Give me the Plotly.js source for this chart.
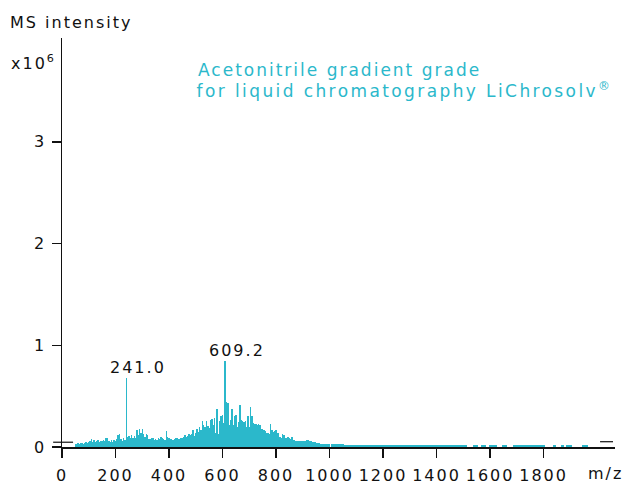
<!DOCTYPE html>
<html>
<head>
<meta charset="utf-8">
<script src="https://cdn.plot.ly/plotly-3.0.1.min.js"></script>
<style>
  html, body { margin: 0; padding: 0; background: #fff; }
  #chart { width: 625px; height: 484px; }
  #chart text { letter-spacing: 2px; }
  #chart g.annotation[data-index="6"] text { letter-spacing: 2.4px; }
</style>
</head>
<body>
<div id="chart"></div>
<script>
// m/z positions of the dense part of the spectrum
const mzMain = [
  50,55,60,65,70,75,80,85,90,95,
  100,105,110,115,120,125,130,135,140,145,
  150,155,160,165,170,175,180,185,190,195,
  200,205,210,215,220,225,230,235,241,245,
  250,255,260,265,270,275,280,285,290,295,
  300,305,310,315,320,325,330,335,340,345,
  350,355,360,365,370,375,380,385,390,395,
  400,405,410,415,420,425,430,435,440,445,
  450,455,460,465,470,475,480,485,490,495,
  500,505,510,515,520,525,530,535,540,545,
  550,555,560,565,570,575,580,585,590,595,
  600,605,609.2,615,620,625,630,635,640,645,
  650,655,660,665,670,675,680,685,690,695,
  700,705,710,715,720,725,730,735,740,745,
  750,755,760,765,770,775,780,785,790,795,
  800,805,810,815,820,825,830,835,840,845,
  850,855,860,865,870,875,880,885,890,895,
  900,905,910,915,920,925,930,935,940,945,
  950,955,960,965,970,975,980,985,990,995,
  1000
];
// MS intensity (x10^6)
const intensityMain = [
  0.025,0.03,0.035,0.03,0.04,0.035,0.03,0.04,0.045,0.04,
  0.045,0.055,0.075,0.05,0.065,0.045,0.055,0.065,0.045,0.06,
  0.055,0.07,0.06,0.085,0.09,0.055,0.05,0.065,0.045,0.07,
  0.06,0.075,0.115,0.125,0.075,0.055,0.085,0.065,0.68,0.095,
  0.11,0.085,0.12,0.09,0.11,0.085,0.17,0.12,0.18,0.14,
  0.18,0.13,0.10,0.13,0.12,0.08,0.075,0.085,0.09,0.065,
  0.075,0.07,0.09,0.08,0.095,0.085,0.075,0.065,0.16,0.10,
  0.085,0.075,0.08,0.07,0.08,0.09,0.085,0.075,0.075,0.09,
  0.085,0.10,0.12,0.10,0.11,0.13,0.12,0.13,0.17,0.11,
  0.14,0.18,0.15,0.20,0.17,0.26,0.22,0.20,0.26,0.21,
  0.19,0.27,0.28,0.22,0.29,0.14,0.37,0.13,0.26,0.30,
  0.31,0.24,0.85,0.44,0.43,0.22,0.27,0.37,0.22,0.30,
  0.31,0.20,0.25,0.41,0.27,0.26,0.25,0.26,0.20,0.30,
  0.20,0.39,0.30,0.24,0.23,0.23,0.22,0.23,0.22,0.18,
  0.18,0.17,0.16,0.14,0.14,0.13,0.23,0.17,0.15,0.16,
  0.17,0.14,0.14,0.10,0.085,0.13,0.12,0.085,0.09,0.10,
  0.085,0.08,0.095,0.07,0.065,0.06,0.055,0.057,0.055,0.058,
  0.055,0.057,0.062,0.07,0.065,0.058,0.057,0.053,0.048,0.046,
  0.043,0.041,0.037,0.034,0.033,0.033,0.031,0.032,0.031,0.03,
  0.03
];
// m/z positions of the low tail
const mzTail = [
  1010,1020,1030,1040,1050,1060,1070,1080,1090,1100,
  1110,1120,1130,1140,1150,1160,1170,1180,1190,1200,
  1210,1220,1230,1240,1250,1260,1270,1280,1290,1300,
  1310,1320,1330,1340,1350,1360,1370,1380,1390,1400,
  1410,1420,1430,1440,1450,1460,1470,1480,1490,1500,
  1510,1520,1530,1540,1550,1560,1570,1580,1590,1600,
  1610,1620,1630,1640,1650,1660,1670,1680,1690,1700,
  1710,1720,1730,1740,1750,1760,1770,1780,1790,1800,
  1810,1820,1830,1840,1850,1860,1870,1880,1890,1900,
  1910,1920,1930,1940,1950,1960,1970
];
const intensityTail = [
  0.03,0.029,0.028,0.027,0.026,0.024,0.023,0.023,0.022,0.022,
  0.02,0.021,0.019,0.02,0.02,0.019,0.021,0.02,0.019,0.02,
  0.019,0.02,0.02,0.019,0.021,0.019,0.02,0.019,0.02,0.019,
  0.02,0.019,0.02,0.021,0.019,0.02,0.019,0.02,0.021,0.019,
  0.02,0.021,0.022,0.02,0.021,0.022,0.019,0.021,0.02,0.022,
  0.019,0,0,0.021,0.02,0,0.021,0.019,0,0.022,
  0.02,0.021,0,0,0.02,0.019,0,0,0.02,0.021,
  0.022,0.02,0.021,0.019,0.021,0.02,0.022,0.021,0.019,0.02,
  0,0,0,0.02,0,0,0.019,0,0.02,0.021,
  0,0,0,0,0.019,0.02,0
];
// labelled peaks
const peakMz = [241.0, 609.2];
const peakIntensity = [0.68, 0.85];
const peakLabels = ['241.0', '609.2'];
// axis ticks
const xTickVals = [0,200,400,600,800,1000,1200,1400,1600,1800];
const yTickVals = [0,1,2,3];

const cyan = '#2BB8CB';
const font = 'DejaVu Sans, Verdana, sans-serif';

const traces = [
  { type: 'bar', x: mzMain, y: intensityMain, width: 5.2,
    marker: { color: cyan, line: { width: 0 } }, hoverinfo: 'x+y' },
  { type: 'bar', x: mzTail, y: intensityTail, width: 10,
    marker: { color: cyan, line: { width: 0 } }, hoverinfo: 'x+y' }
];

const annotations = peakMz.map((m, i) => ({
  x: m, y: peakIntensity[i], xref: 'x', yref: 'y',
  text: peakLabels[i], showarrow: false,
  xanchor: 'center', yanchor: 'bottom', xshift: 12, yshift: -1,
  font: { family: font, size: 16, color: '#111' }
}));

annotations.push(
  { x: 0.0154, y: 1.039, xref: 'paper', yref: 'paper', xanchor: 'center', yanchor: 'middle',
    text: 'MS intensity', showarrow: false, font: { family: font, size: 16, color: '#111' } },
  { x: -0.0524, y: 0.941, xref: 'paper', yref: 'paper', xanchor: 'center', yanchor: 'middle',
    text: 'x10<sup>6</sup>', showarrow: false, font: { family: font, size: 16, color: '#111' } },
  { x: 0.982, y: -0.066, xref: 'paper', yref: 'paper', xanchor: 'center', yanchor: 'middle',
    text: 'm/z', showarrow: false, font: { family: font, size: 16, color: '#111' } },
  { x: 0.5027, y: 0.9218, xref: 'paper', yref: 'paper', xanchor: 'center', yanchor: 'middle',
    text: 'Acetonitrile gradient grade', showarrow: false, font: { family: font, size: 17, color: cyan } },
  { x: 0.6185, y: 0.8729, xref: 'paper', yref: 'paper', xanchor: 'center', yanchor: 'middle',
    text: 'for liquid chromatography LiChrosolv<sup>®</sup>', showarrow: false, font: { family: font, size: 17, color: cyan } }
);

const layout = {
  width: 625, height: 484,
  margin: { l: 62, r: 10, t: 38, b: 36.5 },
  paper_bgcolor: '#fff', plot_bgcolor: '#fff',
  showlegend: false, barmode: 'overlay', bargap: 0,
  font: { family: font, size: 16, color: '#111' },
  xaxis: {
    range: [0, 2067], showgrid: false, zeroline: false,
    showline: true, linecolor: '#111', linewidth: 1.5,
    ticks: 'outside', ticklen: 9, tickwidth: 1.5, tickcolor: '#111',
    tickvals: xTickVals, ticktext: xTickVals.map(String),
    tickfont: { family: font, size: 16, color: '#111' },
    ticklabelstandoff: 4
  },
  yaxis: {
    range: [0, 4.02], showgrid: false, zeroline: false,
    showline: true, linecolor: '#111', linewidth: 1.5,
    ticks: 'outside', ticklen: 9, tickwidth: 1.5, tickcolor: '#111',
    tickvals: yTickVals, ticktext: yTickVals.map(String),
    tickfont: { family: font, size: 16, color: '#111' },
    ticklabelstandoff: 2
  },
  shapes: [
    { type: 'line', xref: 'paper', yref: 'y', x0: -0.016, x1: 0.02, y0: 0.047, y1: 0.047,
      line: { color: '#111', width: 1.2 } },
    { type: 'line', xref: 'paper', yref: 'y', x0: 0.973, x1: 0.9964, y0: 0.052, y1: 0.052,
      line: { color: '#111', width: 1.2 } }
  ],
  annotations: annotations
};

Plotly.newPlot('chart', traces, layout, { staticPlot: true, displayModeBar: false });
</script>
</body>
</html>
